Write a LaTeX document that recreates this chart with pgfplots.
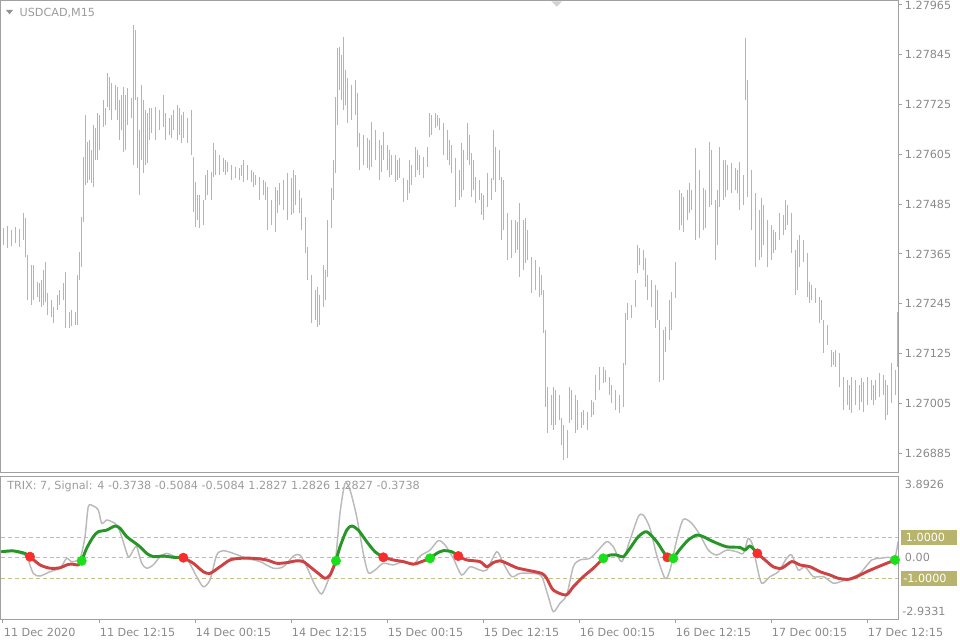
\documentclass[border=0pt]{standalone}
\usepackage{fontspec}
\setmainfont{DejaVu Sans}
\usepackage{pgfplots}
\usepackage{pgfplotstable}
\pgfplotsset{compat=1.18}
\definecolor{barcol}{RGB}{180,180,180}
\definecolor{framecol}{RGB}{160,160,160}
\definecolor{lbl}{RGB}{138,138,138}
\definecolor{trixgreen}{RGB}{38,150,38}
\definecolor{trixred}{RGB}{205,66,66}
\definecolor{dotred}{RGB}{250,45,45}
\definecolor{dotgreen}{RGB}{25,225,25}
\definecolor{lvl}{RGB}{198,194,135}
\definecolor{lvlbox}{RGB}{184,180,110}
\definecolor{sig}{RGB}{186,186,186}

% USDCAD M15 bars: bar index, high, low
\pgfplotstableread{
i hi lo
0 1.27428 1.27387
2 1.27432 1.27379
4 1.27423 1.27384
6 1.27430 1.27391
8 1.27425 1.27382
10 1.27464 1.27399
11 1.27452 1.27358
12 1.27362 1.27254
14 1.27338 1.27242
15 1.27338 1.27254
17 1.27297 1.27261
18 1.27295 1.27249
19 1.27302 1.27237
20 1.27326 1.27242
21 1.27346 1.27249
22 1.27271 1.27218
24 1.27254 1.27213
25 1.27237 1.27199
27 1.27266 1.27230
28 1.27278 1.27242
30 1.27295 1.27254
31 1.27322 1.27187
33 1.27225 1.27187
34 1.27230 1.27191
36 1.27225 1.27194
37 1.27314 1.27194
38 1.27370 1.27302
39 1.27454 1.27334
40 1.27599 1.27442
41 1.27700 1.27531
42 1.27635 1.27536
43 1.27640 1.27543
44 1.27616 1.27536
45 1.27676 1.27526
46 1.27669 1.27591
47 1.27705 1.27591
48 1.27700 1.27616
50 1.27736 1.27671
51 1.27717 1.27676
52 1.27801 1.27719
53 1.27791 1.27712
54 1.27777 1.27688
56 1.27772 1.27712
57 1.27767 1.27688
58 1.27736 1.27640
59 1.27748 1.27664
60 1.27767 1.27611
61 1.27748 1.27616
62 1.27765 1.27676
64 1.27741 1.27693
65 1.27917 1.27579
66 1.27905 1.27736
67 1.27743 1.27572
68 1.27664 1.27507
69 1.27772 1.27591
70 1.27736 1.27560
71 1.27712 1.27579
72 1.27705 1.27584
73 1.27717 1.27640
74 1.27717 1.27656
76 1.27719 1.27640
78 1.27712 1.27664
80 1.27748 1.27671
81 1.27705 1.27640
83 1.27693 1.27652
84 1.27700 1.27644
85 1.27712 1.27664
87 1.27724 1.27640
88 1.27717 1.27652
89 1.27700 1.27632
90 1.27707 1.27644
92 1.27693 1.27632
94 1.27712 1.27603
95 1.27599 1.27466
96 1.27538 1.27430
97 1.27507 1.27447
98 1.27507 1.27428
100 1.27495 1.27435
101 1.27555 1.27495
102 1.27567 1.27507
104 1.27562 1.27495
105 1.27632 1.27550
106 1.27616 1.27555
108 1.27603 1.27555
110 1.27596 1.27562
111 1.27591 1.27555
112 1.27587 1.27562
114 1.27579 1.27543
116 1.27575 1.27548
118 1.27572 1.27543
119 1.27579 1.27553
120 1.27591 1.27538
122 1.27579 1.27543
124 1.27567 1.27538
125 1.27562 1.27526
126 1.27555 1.27531
128 1.27550 1.27495
130 1.27543 1.27507
131 1.27538 1.27495
132 1.27526 1.27423
134 1.27495 1.27435
136 1.27526 1.27418
137 1.27519 1.27464
138 1.27536 1.27483
140 1.27543 1.27471
142 1.27560 1.27447
144 1.27548 1.27459
145 1.27567 1.27464
146 1.27555 1.27483
148 1.27519 1.27464
149 1.27500 1.27423
151 1.27454 1.27367
152 1.27382 1.27302
154 1.27314 1.27199
156 1.27278 1.27206
157 1.27285 1.27189
158 1.27266 1.27194
160 1.27338 1.27237
161 1.27326 1.27254
162 1.27447 1.27309
164 1.27524 1.27428
165 1.27591 1.27495
166 1.27743 1.27560
167 1.27861 1.27676
168 1.27864 1.27760
169 1.27844 1.27736
170 1.27888 1.27712
171 1.27808 1.27724
172 1.27789 1.27681
174 1.27772 1.27688
176 1.27784 1.27700
177 1.27753 1.27623
178 1.27656 1.27567
180 1.27652 1.27579
182 1.27644 1.27572
183 1.27640 1.27567
184 1.27683 1.27575
186 1.27664 1.27591
188 1.27640 1.27543
189 1.27628 1.27562
190 1.27659 1.27591
192 1.27628 1.27567
193 1.27616 1.27550
194 1.27603 1.27555
196 1.27603 1.27538
197 1.27591 1.27543
198 1.27596 1.27548
200 1.27548 1.27490
202 1.27543 1.27495
203 1.27591 1.27512
204 1.27579 1.27531
206 1.27623 1.27550
207 1.27616 1.27567
208 1.27603 1.27555
210 1.27599 1.27548
212 1.27623 1.27575
213 1.27705 1.27647
214 1.27700 1.27652
216 1.27705 1.27669
217 1.27700 1.27673
218 1.27693 1.27664
220 1.27681 1.27603
222 1.27664 1.27591
223 1.27640 1.27579
224 1.27628 1.27560
226 1.27596 1.27478
228 1.27567 1.27495
229 1.27632 1.27502
230 1.27616 1.27519
232 1.27681 1.27591
233 1.27652 1.27579
234 1.27608 1.27502
235 1.27591 1.27519
236 1.27550 1.27488
238 1.27543 1.27495
239 1.27512 1.27459
240 1.27507 1.27447
242 1.27560 1.27478
244 1.27548 1.27495
245 1.27664 1.27543
246 1.27623 1.27514
248 1.27616 1.27543
249 1.27550 1.27399
250 1.27543 1.27423
252 1.27464 1.27350
254 1.27447 1.27355
256 1.27447 1.27367
257 1.27442 1.27375
258 1.27488 1.27309
260 1.27447 1.27326
261 1.27452 1.27343
262 1.27423 1.27350
264 1.27358 1.27271
266 1.27350 1.27278
268 1.27334 1.27261
269 1.27314 1.27266
270 1.27278 1.27175
271 1.27182 1.26996
272 1.27044 1.26934
274 1.27025 1.26953
275 1.27044 1.26941
276 1.27037 1.26953
278 1.27025 1.26965
279 1.26970 1.26905
280 1.26953 1.26868
282 1.26941 1.26873
283 1.27044 1.26958
284 1.27037 1.26965
286 1.27025 1.26934
287 1.27013 1.26941
289 1.26984 1.26946
290 1.26989 1.26953
292 1.26984 1.26941
294 1.27013 1.26972
295 1.27008 1.26977
296 1.27073 1.27013
298 1.27093 1.27037
300 1.27093 1.27054
301 1.27085 1.27056
303 1.27068 1.27025
304 1.27049 1.27006
306 1.27037 1.26989
308 1.27025 1.26982
310 1.27102 1.26996
311 1.27223 1.27097
312 1.27247 1.27206
314 1.27242 1.27211
316 1.27302 1.27237
317 1.27387 1.27319
318 1.27379 1.27338
320 1.27375 1.27326
321 1.27355 1.27285
322 1.27314 1.27254
324 1.27302 1.27237
326 1.27290 1.27187
327 1.27278 1.27206
328 1.27206 1.27056
330 1.27182 1.27061
331 1.27189 1.27129
333 1.27254 1.27158
334 1.27273 1.27182
336 1.27346 1.27259
338 1.27519 1.27423
339 1.27512 1.27435
340 1.27502 1.27418
342 1.27519 1.27447
343 1.27536 1.27464
344 1.27519 1.27471
346 1.27620 1.27399
348 1.27567 1.27403
350 1.27524 1.27423
351 1.27519 1.27428
353 1.27635 1.27478
354 1.27616 1.27483
356 1.27495 1.27350
357 1.27519 1.27387
358 1.27623 1.27478
360 1.27591 1.27495
361 1.27591 1.27502
362 1.27579 1.27519
364 1.27584 1.27512
366 1.27572 1.27519
367 1.27567 1.27512
368 1.27587 1.27471
370 1.27555 1.27483
371 1.27885 1.27736
372 1.27784 1.27502
374 1.27567 1.27423
376 1.27512 1.27334
378 1.27471 1.27350
379 1.27500 1.27358
380 1.27483 1.27387
382 1.27447 1.27334
384 1.27435 1.27350
385 1.27423 1.27367
386 1.27418 1.27375
388 1.27464 1.27399
390 1.27459 1.27411
391 1.27495 1.27423
392 1.27483 1.27435
394 1.27464 1.27367
396 1.27375 1.27266
397 1.27399 1.27278
398 1.27411 1.27334
400 1.27399 1.27346
402 1.27367 1.27261
403 1.27297 1.27247
404 1.27290 1.27254
406 1.27283 1.27247
408 1.27261 1.27199
409 1.27254 1.27206
410 1.27206 1.27126
412 1.27194 1.27146
414 1.27134 1.27093
415 1.27129 1.27097
416 1.27134 1.27093
418 1.27126 1.27044
420 1.27068 1.26989
422 1.27061 1.27001
423 1.27049 1.26989
424 1.27068 1.26982
426 1.27061 1.27001
428 1.27049 1.26989
429 1.27066 1.27008
430 1.27056 1.26984
432 1.27068 1.27001
434 1.27061 1.27013
435 1.27049 1.27001
436 1.27061 1.27013
438 1.27078 1.27020
440 1.27073 1.27025
441 1.27061 1.26965
442 1.27049 1.26977
444 1.27102 1.27006
446 1.27085 1.27025
447 1.27225 1.27093
}\prices

\begin{document}
\begin{tikzpicture}[font=\fontsize{8.4}{10}\selectfont]

% price panel
\begin{axis}[
  name=price,
  width=672.75pt, height=353.25pt, scale only axis,
  xmin=-1, xmax=447.5, ymin=1.268395, ymax=1.279746,
  axis line style={framecol, line width=0.75pt},
  xtick=\empty,
  ytick={1.26885,1.27005,1.27125,1.27245,1.27365,1.27485,1.27605,1.27725,1.27845,1.27965},
  yticklabels={1.26885,1.27005,1.27125,1.27245,1.27365,1.27485,1.27605,1.27725,1.27845,1.27965},
  ytick pos=right, yticklabel pos=right,
  tick align=outside, major tick length=3pt,
  tick style={framecol, line width=0.75pt},
  yticklabel style={lbl, inner sep=0pt, anchor=west, xshift=2pt},
]
\addplot[draw=none, forget plot,
  error bars/.cd, y dir=plus, y explicit, error mark=none,
  error bar style={draw=barcol, line width=0.6pt}]
  table[x=i, y=lo, y error expr=\thisrow{hi}-\thisrow{lo}] {\prices};
\end{axis}

\begin{scope}[shift={(price.north west)}]
\fill[gray!85] (3.75pt,-6.75pt) -- (9pt,-6.75pt) -- (6.4pt,-10pt) -- cycle;
\node[anchor=west, inner sep=0pt, text=lbl!85] at (13.75pt,-9pt) {USDCAD,M15};
\fill[black!18] (412.75pt,-0.25pt) -- (420.75pt,-0.25pt) -- (416.75pt,-4.25pt) -- cycle;
\end{scope}

% TRIX panel
\begin{axis}[
  name=trix,
  at={(price.south west)}, anchor=north west, yshift=-3pt,
  width=672.75pt, height=107.25pt, scale only axis,
  xmin=-1, xmax=447.5, ymin=-2.976, ymax=3.966,
  axis line style={framecol, line width=0.75pt},
  xtick={0,48,96,144,192,240,288,336,384,432},
  xticklabels={11 Dec 2020,11 Dec 12:15,14 Dec 00:15,14 Dec 12:15,15 Dec 00:15,15 Dec 12:15,16 Dec 00:15,16 Dec 12:15,17 Dec 00:15,17 Dec 12:15},
  xtick pos=bottom, ytick=\empty,
  tick align=outside, major tick length=3pt,
  tick style={framecol, line width=0.75pt},
  xticklabel style={lbl, anchor=west, inner sep=0pt, xshift=0.5pt, yshift=-7pt},
  clip mode=individual,
]
\addplot[lvl, line width=0.75pt, dash pattern=on 3pt off 2.2pt] coordinates {(-1,1) (447.5,1)};
\addplot[lvl, line width=0.75pt, dash pattern=on 3pt off 2.2pt] coordinates {(-1,0) (447.5,0)};
\addplot[lvl, line width=0.75pt, dash pattern=on 3pt off 2.2pt] coordinates {(-1,-1) (447.5,-1)};

% TRIX line (grey)
\addplot[sig, line width=1.1pt, smooth, tension=0.45] coordinates {
(-0.65,0.29) (3.5,0.36) (8.5,0.21) (11.85,0.05) (15.15,-0.76) (18.5,-0.89)
(23.5,-0.68) (28.5,-0.51) (31.85,-0.03) (34.35,-0.19) (38.5,-0.03) (41,1.02)
(42.65,2.48) (45.15,2.51) (47.65,2.32) (49.35,1.67) (51.85,1.83) (54.35,1.75)
(56.85,1.59) (59.35,1.02) (62.65,0.05) (65.15,0.37) (66.85,0.53) (69.35,-0.27)
(71.85,-0.51) (75.15,-0.35) (78.5,0.05) (81.85,0.21) (86.85,0.02) (91.85,-0.06)
(96.85,-0.92) (100.15,-1.41) (103.5,-1.08) (106.85,0.13) (110.15,0.34) (115.15,0.21)
(121.85,-0.03) (128.5,-0.19) (135.15,-0.51) (140.15,-0.44) (145.15,0.08) (148.5,0.13)
(151.85,-0.44) (156,-1.33) (159.35,-1.76) (162.65,-1.08) (166,-0.27) (168.5,2.16)
(171,3.61) (173.5,3.29) (176.85,1.99) (180.15,0.21) (182.65,-0.73) (186,-0.60)
(190.15,-0.27) (195.15,-0.35) (200.15,-0.19) (205.15,-0.35) (208.5,0.08) (213.5,0.37)
(217.65,0.83) (221,0.62) (225.15,-0.03) (229.35,-0.84) (233.5,-0.44) (238.5,-0.60)
(241.85,-0.60) (246.85,0.29) (250.15,-0.27) (254.35,-0.92) (258.5,-0.76) (265.15,-0.76)
(269.35,-0.92) (272.65,-1.89) (275.15,-2.62) (278.5,-2.21) (281.85,-1.81) (285.15,-0.44)
(288.5,-0.11) (293.5,-0.03) (297.65,0.37) (301.85,0.78) (305.15,0.53) (309.35,-0.19)
(313.5,0.86) (317.65,1.99) (320.15,2.07) (323.5,1.43) (326.85,0.13) (331,-1.0)
(333.5,-0.60) (336.85,0.86) (340.15,1.86) (344.35,1.67) (348.5,1.10) (352.65,0.37)
(356.85,0.13) (361.85,0.37) (366.85,0.29) (370.15,0.21) (372.65,0.94) (375.15,0.53)
(376.85,-0.35) (379.35,-1.24) (383.5,-0.92) (387.65,-0.68) (391.85,-0.03) (394.35,0.13)
(397.65,-0.60) (401,-0.44) (405.15,-0.92) (410.15,-0.92) (415.15,-1.24) (418.5,-1.17)
(423.5,-1.0) (428.5,-0.76) (434.35,-0.11) (438.5,-0.03) (442.65,0.02) (446,0.02)
(447.5,0.78)};

% signal line, coloured by direction
\pgfplotsset{seg/.style={line width=2.2pt, smooth, tension=0.45, line cap=round, line join=round}}
\addplot[seg, trixgreen] coordinates {(-0.65,0.29) (5.15,0.33) (11,0.21) (13.5,0.05)};
\addplot[seg, trixred] coordinates {(13.5,0.05) (18.5,-0.35) (23.5,-0.51) (28.5,-0.49)
  (31.85,-0.35) (34.35,-0.31) (37.65,-0.35) (39.35,-0.15)};
\addplot[seg, trixgreen] coordinates {(39.35,-0.15) (41.85,0.46) (45.15,1.02) (47.65,1.26)
  (51.85,1.34) (56,1.54) (58.5,1.43) (61.85,1.02) (65.15,0.78) (68.5,0.53) (71.85,0.21)
  (75.15,0.05) (80.15,0.08) (85.15,0.02) (90.15,0)};
\addplot[seg, trixred] coordinates {(90.15,0) (95.15,-0.27) (100.15,-0.68) (103.5,-0.76)
  (108.5,-0.44) (113.5,-0.11) (118.5,-0.03) (125.15,-0.03) (131.85,-0.11) (136.85,-0.27)
  (141.85,-0.24) (146.85,-0.15) (150.15,-0.19) (153.5,-0.44) (157.65,-0.76) (161,-1.0)
  (163.5,-0.84) (166.5,-0.15)};
\addplot[seg, trixgreen] coordinates {(166.5,-0.15) (168.5,0.53) (171.85,1.34) (174.35,1.54)
  (177.65,1.34) (181.85,0.78) (186,0.29) (190.15,0.02)};
\addplot[seg, trixred] coordinates {(190.15,0.02) (195.15,-0.11) (200.15,-0.19)
  (205.15,-0.31) (209.35,-0.19) (213.5,-0.03)};
\addplot[seg, trixgreen] coordinates {(213.5,-0.03) (216.85,0.21) (220.15,0.34)
  (224.35,0.29) (227.65,0.08)};
\addplot[seg, trixred] coordinates {(227.65,0.08) (231.85,-0.11) (238.5,-0.19) (241.85,-0.44)
  (245.15,-0.24) (248.5,-0.15) (251.85,-0.27) (256.85,-0.49) (261.85,-0.60) (269.35,-0.76)
  (271.85,-1.0) (275.15,-1.57) (281.5,-1.81) (285.15,-1.41) (290.15,-0.92) (295.15,-0.51)
  (300.15,-0.03)};
\addplot[seg, trixgreen] coordinates {(300.15,-0.03) (303.5,0.13) (306.85,0.13) (310.15,0.05)
  (313.5,0.46) (317.65,1.02) (321.85,1.26) (326.85,0.78) (330.15,0.29) (332.15,0.02)};
\addplot[seg, trixred] coordinates {(332.15,0.02) (335.15,-0.03)};
\addplot[seg, trixgreen] coordinates {(335.15,-0.03) (338.5,0.41) (342.65,0.86) (346.85,1.10)
  (350.15,1.02) (355.15,0.78) (361.85,0.53) (368.5,0.50) (371,0.37) (373.5,0.57) (377.15,0.21)};
\addplot[seg, trixred] coordinates {(377.15,0.21) (381,-0.11) (385.15,-0.44) (389.35,-0.51)
  (394.35,-0.19) (398.5,-0.35) (403.5,-0.44) (408.5,-0.68) (413.5,-0.84) (417.65,-1.0)
  (422.65,-1.05) (426.85,-0.92) (431.85,-0.68) (436.85,-0.47) (441.85,-0.27) (446,-0.11)};

% crossing dots
\addplot[only marks, mark=*, mark size=3.5pt, mark options={draw=dotred, fill=dotred}]
  coordinates {(13.5,0.05) (90.15,0) (190.15,0.02) (227.65,0.08) (332.15,0.02) (377.15,0.21)};
\addplot[only marks, mark=*, mark size=3.5pt, mark options={draw=dotgreen, fill=dotgreen}]
  coordinates {(39.35,-0.15) (166.5,-0.15) (213.5,-0.03) (300.15,-0.03) (335.15,-0.03) (446,-0.11)};

% right-hand scale of the indicator
\node[anchor=west, inner sep=0pt, text=lbl, xshift=5pt] at (axis cs:447.5,3.58) {3.8926};
\node[anchor=west, inner sep=0pt, text=lbl, xshift=3pt] at (axis cs:447.5,-2.59) {-2.9331};
\node[anchor=west, inner sep=0pt, text=lbl, xshift=5pt] at (axis cs:447.5,0) {0.00};
\node[anchor=west, fill=lvlbox, text=white, inner xsep=3.5pt, inner ysep=0pt,
  minimum height=11.25pt, text width=35pt, xshift=2.25pt] at (axis cs:447.5,1) {1.0000};
\node[anchor=west, fill=lvlbox, text=white, inner xsep=1.5pt, inner ysep=0pt,
  minimum height=11.25pt, text width=39pt, xshift=2.25pt] at (axis cs:447.5,-1) {-1.0000};
\end{axis}

\node[anchor=west, inner sep=0pt, text=lbl!85] at ([shift={(4.5pt,-7.5pt)}]trix.north west)
  {TRIX: 7, Signal: 4 -0.3738 -0.5084 -0.5084 1.2827 1.2826 1.2827 -0.3738};

% page = 960 x 640 px at 0.75 pt per px
\pgfresetboundingbox
\path[use as bounding box] ([shift={(-0.75pt,0.75pt)}]price.north west)
  rectangle ([shift={(719.25pt,-479.25pt)}]price.north west);
\end{tikzpicture}
\end{document}
